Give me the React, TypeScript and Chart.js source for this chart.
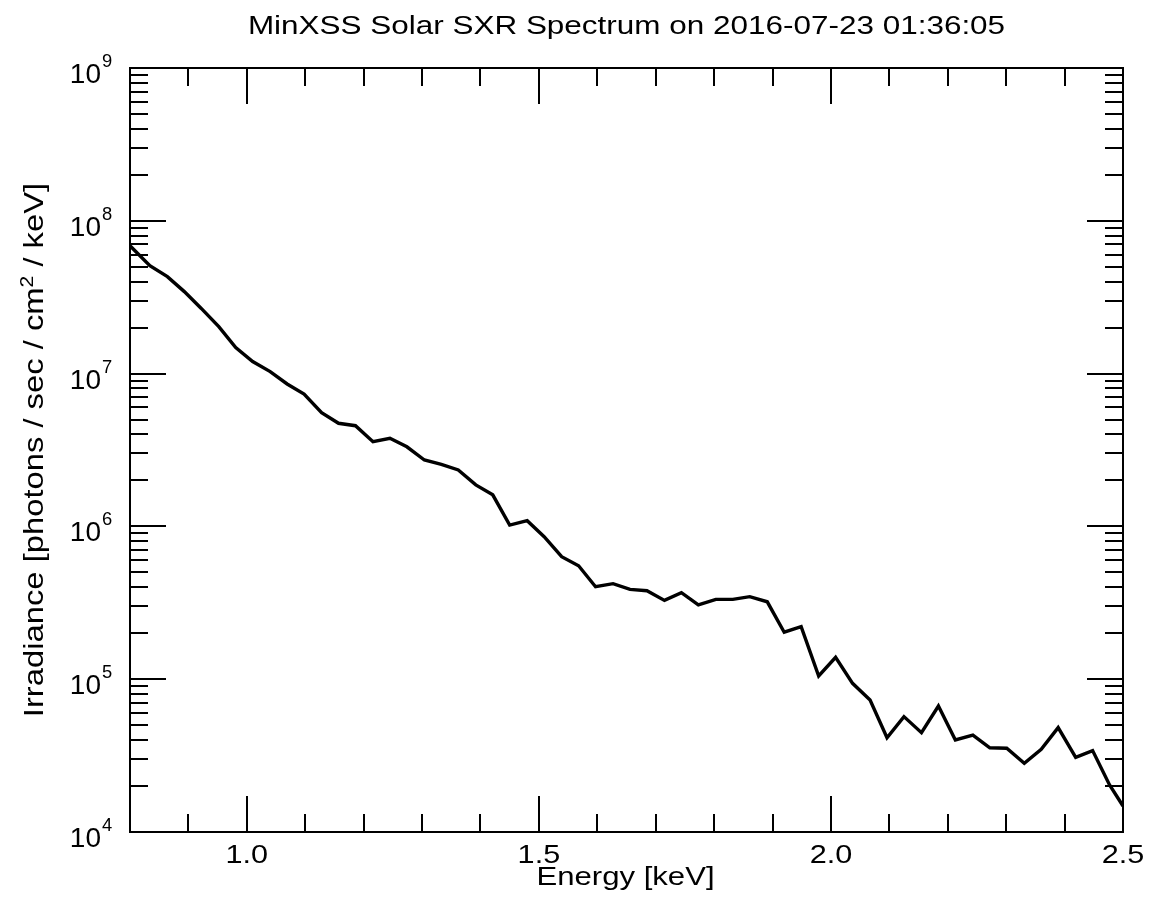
import { useEffect, useRef } from 'react';
import { Chart, registerables } from 'chart.js';
Chart.register(...registerables);

const TITLE = 'MinXSS Solar SXR Spectrum on 2016-07-23 01:36:05';
const X_TITLE = 'Energy [keV]';
const Y_TITLE_A = 'Irradiance [photons / sec / cm';
const Y_TITLE_SUP = '2';
const Y_TITLE_B = ' / keV]';

const energy = [
  0.800, 0.834, 0.864, 0.893, 0.922, 0.952, 0.981, 1.010, 1.040, 1.069,
  1.098, 1.128, 1.157, 1.186, 1.216, 1.245, 1.274, 1.304, 1.333, 1.362,
  1.392, 1.421, 1.450, 1.480, 1.509, 1.539, 1.568, 1.597, 1.627, 1.656,
  1.685, 1.715, 1.744, 1.773, 1.803, 1.832, 1.861, 1.891, 1.920, 1.949,
  1.979, 2.008, 2.037, 2.067, 2.096, 2.125, 2.155, 2.184, 2.213, 2.243,
  2.272, 2.301, 2.331, 2.360, 2.389, 2.419, 2.448, 2.477, 2.500,
];

const irradiance = [
  6.87e7, 5.08e7, 4.31e7, 3.44e7, 2.67e7, 2.03e7, 1.48e7, 1.20e7, 1.03e7, 8.55e6,
  7.35e6, 5.55e6, 4.73e6, 4.56e6, 3.58e6, 3.77e6, 3.32e6, 2.72e6, 2.55e6, 2.34e6,
  1.87e6, 1.61e6, 1.02e6, 1.09e6, 8.57e5, 6.34e5, 5.53e5, 4.03e5, 4.22e5, 3.87e5,
  3.79e5, 3.28e5, 3.68e5, 3.06e5, 3.33e5, 3.33e5, 3.47e5, 3.21e5, 2.03e5, 2.21e5,
  1.05e5, 1.39e5, 9.40e4, 7.31e4, 4.14e4, 5.69e4, 4.47e4, 6.68e4, 4.00e4, 4.31e4,
  3.56e4, 3.53e4, 2.82e4, 3.48e4, 4.82e4, 3.08e4, 3.41e4, 2.03e4, 1.48e4,
];

const xMin = 0.8;
const xMax = 2.5;
const xMajorTicks = [1.0, 1.5, 2.0, 2.5];
const xTickLabels = ['1.0', '1.5', '2.0', '2.5'];
const xMinorStep = 0.1;
const yDecades = [4, 5, 6, 7, 8, 9];

const FONT = '"Liberation Sans", Arial, Helvetica, sans-serif';

function drawText(
  ctx: CanvasRenderingContext2D,
  text: string,
  x: number,
  y: number,
  size: number,
  sx: number,
  align: CanvasTextAlign
) {
  ctx.save();
  ctx.font = `${size}px ${FONT}`;
  ctx.translate(x, y);
  ctx.scale(sx, 1);
  ctx.textAlign = align;
  ctx.textBaseline = 'alphabetic';
  ctx.fillText(text, 0, 0);
  ctx.restore();
}

const framePlugin = {
  id: 'idlFrame',
  afterDraw(chart: any) {
    const ctx: CanvasRenderingContext2D = chart.ctx;
    const { left, right, top, bottom } = chart.chartArea;
    const xs = chart.scales.x;
    const ys = chart.scales.y;
    ctx.save();
    ctx.strokeStyle = '#000';
    ctx.fillStyle = '#000';
    ctx.lineWidth = 2;
    ctx.strokeRect(left, top, right - left, bottom - top);

    const MAJ = 36;
    const MIN = 18;
    ctx.lineWidth = 2;
    ctx.beginPath();
    for (let k = 1; ; k++) {
      const v = +(xMin + k * xMinorStep).toFixed(3);
      if (v > xMax + 1e-9) break;
      const isMaj = xMajorTicks.some((m) => Math.abs(m - v) < 1e-6);
      const len = isMaj ? MAJ : MIN;
      const px = Math.round(xs.getPixelForValue(v));
      ctx.moveTo(px, bottom);
      ctx.lineTo(px, bottom - len);
      ctx.moveTo(px, top);
      ctx.lineTo(px, top + len);
    }
    for (const d of yDecades) {
      for (let m = 1; m <= 9; m++) {
        const v = m * Math.pow(10, d);
        if (v > 1e9 * 1.0001 || v < 1e4 * 0.9999) continue;
        const len = m === 1 ? MAJ : MIN;
        const py = Math.round(ys.getPixelForValue(v));
        ctx.moveTo(left, py);
        ctx.lineTo(left + len, py);
        ctx.moveTo(right, py);
        ctx.lineTo(right - len, py);
      }
    }
    ctx.stroke();

    const cx = (left + right) / 2;
    drawText(ctx, TITLE, cx, 34, 26, 1.21, 'center');

    xMajorTicks.forEach((v, i) => {
      const px = xs.getPixelForValue(v);
      drawText(ctx, xTickLabels[i], px, 863, 25.5, 1.2, 'center');
    });
    drawText(ctx, X_TITLE, cx - 1, 885, 25.5, 1.22, 'center');

    for (const d of yDecades) {
      const py = ys.getPixelForValue(Math.pow(10, d));
      drawText(ctx, '10', 101, py + 15, 28, 1.0, 'right');
      drawText(ctx, String(d), 102, py - 1, 17.5, 1.05, 'left');
    }

    // y title (rotated)
    ctx.save();
    ctx.translate(43, (top + bottom) / 2);
    ctx.rotate(-Math.PI / 2);
    ctx.scale(1.17, 1);
    ctx.textAlign = 'left';
    ctx.textBaseline = 'alphabetic';
    ctx.font = `28px ${FONT}`;
    const wA = ctx.measureText(Y_TITLE_A).width;
    const wB = ctx.measureText(Y_TITLE_B).width;
    ctx.font = `18px ${FONT}`;
    const wS = ctx.measureText(Y_TITLE_SUP).width;
    const total = wA + wS + wB;
    let x0 = -total / 2;
    ctx.font = `28px ${FONT}`;
    ctx.fillText(Y_TITLE_A, x0, 0);
    x0 += wA;
    ctx.font = `18px ${FONT}`;
    ctx.fillText(Y_TITLE_SUP, x0, -10);
    x0 += wS;
    ctx.font = `28px ${FONT}`;
    ctx.fillText(Y_TITLE_B, x0, 0);
    ctx.restore();

    ctx.restore();
  },
};

export default function App() {
  const ref = useRef<HTMLCanvasElement>(null);
  useEffect(() => {
    const chart = new Chart(ref.current as HTMLCanvasElement, {
      type: 'line',
      data: {
        datasets: [
          {
            data: energy.map((e, i) => ({ x: e, y: irradiance[i] })),
            borderColor: '#000',
            borderWidth: 3.4,
            pointRadius: 0,
            tension: 0,
            fill: false,
          },
        ],
      },
      options: {
        animation: false,
        responsive: false,
        layout: { padding: { left: 130, right: 26, top: 68, bottom: 73 } },
        plugins: { legend: { display: false }, tooltip: { enabled: false }, title: { display: false } },
        scales: {
          x: { type: 'linear', min: xMin, max: xMax, display: false },
          y: { type: 'logarithmic', min: 1e4, max: 1e9, display: false },
        },
      },
      plugins: [framePlugin],
    } as any);
    return () => chart.destroy();
  }, []);
  return (
    <div style={{ position: 'fixed', left: 0, top: 0, width: 1149, height: 905, background: '#fff' }}>
      <canvas ref={ref} width={1149} height={905} style={{ display: 'block' }} />
    </div>
  );
}
